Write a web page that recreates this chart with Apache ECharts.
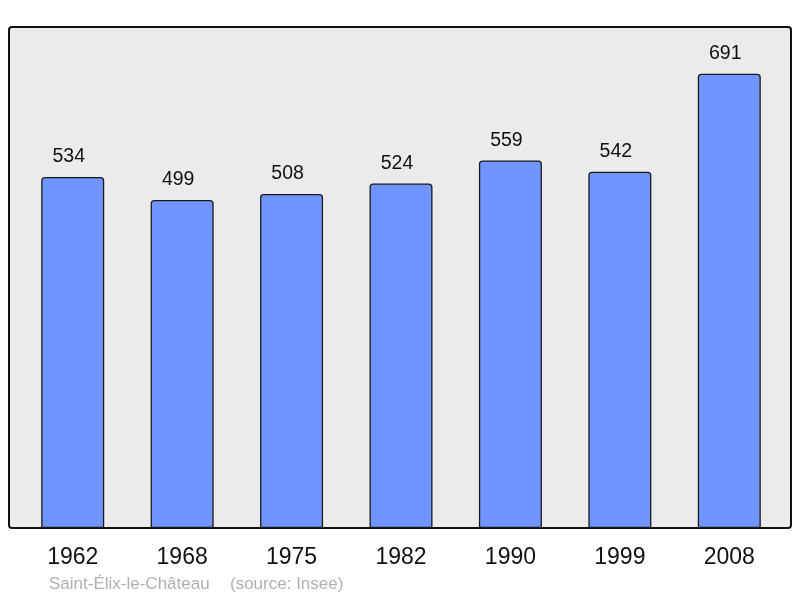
<!DOCTYPE html>
<html><head><meta charset="utf-8">
<script src="https://cdn.jsdelivr.net/npm/echarts@6/dist/echarts.min.js"></script>
<style>html,body{margin:0;padding:0;background:#fff}#c{width:800px;height:598px}</style>
</head><body><div id="c"></div>
<script>
const categories = ['1962','1968','1975','1982','1990','1999','2008'];
const population = [534,499,508,524,559,542,691];
const sourceName = 'Saint-Élix-le-Château';
const sourceNote = '(source: Insee)';

const chart = echarts.init(document.getElementById('c'), null, {renderer:'canvas'});
chart.setOption({
  animation:false,
  backgroundColor:'#ffffff',
  graphic:[
    {type:'rect', z:-10, shape:{x:9,y:27,width:782,height:501,r:3}, style:{fill:'#ebebeb',stroke:'#111',lineWidth:2}},
    {type:'text', left:49, top:576, style:{text:sourceName, fill:'#b0b0b0', font:'17px "Liberation Sans", Arial, sans-serif'}},
    {type:'text', left:230, top:576, style:{text:sourceNote, fill:'#b0b0b0', font:'17px "Liberation Sans", Arial, sans-serif'}}
  ],
  grid:{left:18, right:16, top:27, bottom:70, containLabel:false},
  xAxis:{type:'category', data:categories,
    axisLine:{show:false}, axisTick:{show:false},
    axisLabel:{color:'#111', fontSize:23, fontFamily:'"Liberation Sans", Arial, sans-serif', margin:18}},
  yAxis:{type:'value', min:0, max:762, show:false, splitLine:{show:false}},
  series:[{type:'bar', data:population, barWidth:63,
    itemStyle:{color:'#7095ff', borderColor:'#1a1a1a', borderWidth:1.3, borderRadius:[3,3,0,0]},
    label:{show:true, position:'top', distance:10, offset:[-4,0], color:'#111', fontSize:19.5, fontFamily:'"Liberation Sans", Arial, sans-serif'}
  }]
});
</script></body></html>
